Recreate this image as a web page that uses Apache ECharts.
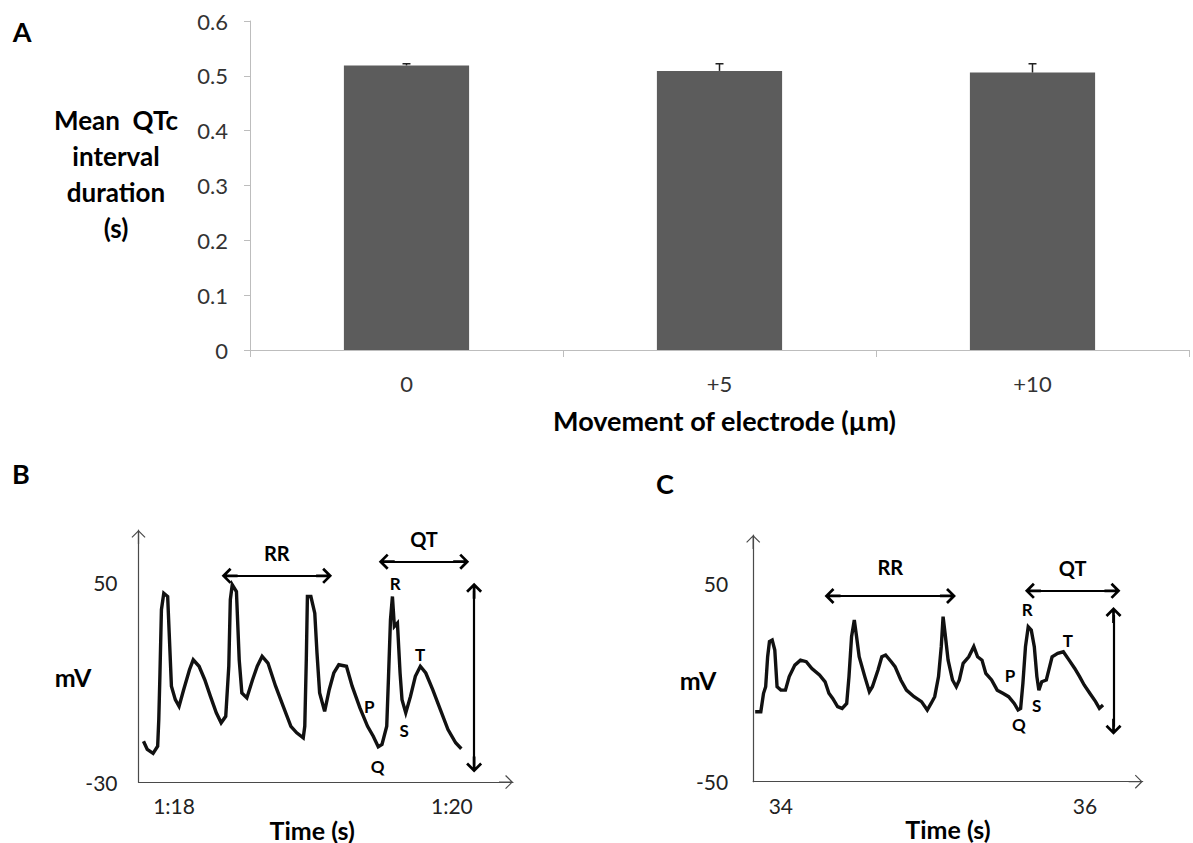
<!DOCTYPE html>
<html>
<head>
<meta charset="utf-8">
<title>Mean QTc interval duration</title>
<script src="https://cdn.jsdelivr.net/npm/echarts@6/dist/echarts.min.js"></script>
<style>
  html, body { margin: 0; padding: 0; background: #ffffff; }
  #chart-container { width: 1193px; height: 843px; }
</style>
</head>
<body>
<div id="chart-container"></div>
<script>
// ---- panel A : bar chart ----
const movements = ['0', '+5', '+10'];
const meanQTc = [0.519, 0.509, 0.506];
const errQTc = [0.003, 0.013, 0.016];

// ---- panel B : ECG trace (time in s, 1:18 = 78 s) ----
const timeB = [77.780, 77.807, 77.849, 77.882, 77.890, 77.898, 77.909, 77.926, 77.954, 77.965,
  77.981, 78.009, 78.036, 78.069, 78.111, 78.138, 78.180, 78.221, 78.262, 78.304,
  78.339, 78.372, 78.394, 78.405, 78.419, 78.449, 78.469, 78.488, 78.524, 78.565,
  78.599, 78.634, 78.676, 78.731, 78.786, 78.841, 78.883, 78.930, 78.941, 78.952,
  78.960, 78.985, 79.013, 79.029, 79.048, 79.084, 79.117, 79.150, 79.186, 79.241,
  79.282, 79.338, 79.393, 79.434, 79.470, 79.497, 79.531, 79.544, 79.558, 79.572,
  79.586, 79.608, 79.627, 79.641, 79.668, 79.702, 79.737, 79.773, 79.812, 79.862,
  79.917, 79.972, 80.027, 80.068];
const mvB = [-13.6, -16.9, -18.5, -15.6, -4.9, 12.5, 39.2, 45.8, 44.5, 29.8,
  8.5, 3.1, 0.4, 7.1, 15.1, 19.1, 16.5, 11.1, 4.4, -2.2,
  -6.2, -3.6, 16.5, 43.2, 49.2, 46.5, 19.1, 5.8, 3.8, 11.1,
  16.5, 20.5, 17.8, 8.5, 0.4, -7.6, -10.2, -12.2, -7.6, 19.1,
  44.5, 44.5, 37.8, 21.8, 5.8, -1.6, 7.1, 13.8, 17.1, 16.5,
  8.5, -0.2, -7.6, -11.6, -15.8, -14.9, -7.6, 12.5, 35.2, 44.5,
  32.5, 33.8, 13.8, 3.1, -2.2, 4.4, 12.5, 16.5, 13.8, 7.1,
  -0.9, -8.9, -14.2, -16.6];
const timeTicksB = [78, 80];
const timeLabelsB = ['1:18', '1:20'];
const mvTicksB = [-30, 50];

// ---- panel C : ECG trace ----
const timeC = [33.831, 33.868, 33.886, 33.900, 33.913, 33.925, 33.943, 33.960, 33.975, 34.000,
  34.030, 34.055, 34.092, 34.129, 34.167, 34.204, 34.254, 34.291, 34.316, 34.341,
  34.373, 34.403, 34.433, 34.448, 34.465, 34.483, 34.498, 34.515, 34.552, 34.582,
  34.602, 34.639, 34.664, 34.689, 34.726, 34.751, 34.789, 34.826, 34.876, 34.925,
  34.963, 34.988, 35.012, 35.037, 35.055, 35.067, 35.080, 35.100, 35.129, 35.154,
  35.174, 35.199, 35.236, 35.269, 35.294, 35.323, 35.348, 35.386, 35.423, 35.460,
  35.498, 35.535, 35.560, 35.577, 35.592, 35.609, 35.627, 35.647, 35.667, 35.684,
  35.697, 35.716, 35.746, 35.784, 35.821, 35.858, 35.896, 35.933, 35.965, 35.995,
  36.032, 36.070, 36.095, 36.119];
const mvC = [-14.8, -14.8, -5.5, -2.2, 12.9, 20.5, 21.3, 16.3, -2.2, -3.9,
  -3.9, 2.9, 8.7, 11.2, 10.4, 7.0, 3.7, 0.3, -5.5, -8.1,
  -12.2, -13.1, -10.6, 2.9, 23.0, 31.4, 23.0, 12.9, 2.9, -4.7,
  -2.2, 6.2, 12.9, 13.8, 10.4, 7.9, 1.2, -3.9, -7.2, -9.7,
  -13.9, -10.6, -7.2, 2.9, 18.0, 33.1, 24.7, 11.2, 1.2, -2.2,
  1.2, 9.6, 12.9, 18.0, 12.9, 11.2, 4.5, 1.2, -3.9, -5.5,
  -7.2, -10.6, -13.9, -13.1, -0.5, 18.0, 28.0, 26.3, 18.0, 2.9,
  -3.9, 0.3, 1.2, 12.9, 14.6, 15.4, 11.2, 7.0, 2.9, -1.3,
  -5.5, -9.7, -13.1, -11.4];
const timeTicksC = [34, 36];
const mvTicksC = [-50, 50];

// ---- annotations (RR / QT intervals, amplitude, wave letters) ----
const waveNames = ['P', 'Q', 'R', 'S', 'T'];
const waveTimeB = [79.405, 79.466, 79.592, 79.657, 79.772];
const waveMvB = [0.3, -23.7, 49.6, -9.3, 21.2];
const waveTimeC = [35.507, 35.566, 35.621, 35.683, 35.888];
const waveMvC = [3.7, -21.4, 36.9, -11.4, 21.3];
const rrB = [78.40, 79.08, 52.8];   // start, end, level
const qtB = [79.531, 80.067, 58.5];
const ampB = [80.160, -22.9, 46.8]; // time, low, high
const rrC = [34.340, 35.099, 43.5];
const qtC = [35.658, 36.181, 46.1];
const ampC = [36.188, -22.3, 33.9];

const FONT = 'Lato';
const chevronThick = 'path://M5,0 L10,5 L8.8,6.2 L5.85,3.25 L5.85,10 L4.15,10 L4.15,3.25 L1.2,6.2 L0,5 Z';
const chevronThin = 'path://M5,0 L10,5 L9.4,5.6 L5.45,1.65 L5.45,10 L4.55,10 L4.55,1.65 L0.6,5.6 L0,5 Z';

const zip = (xs, ys) => xs.map((x, i) => [x, ys[i]]);

const intervalLine = (seg, name, dist) => [
  {
    coord: [seg[0], seg[2]], name: name,
    label: { show: true, formatter: name, position: 'insideMiddleTop', distance: dist,
      color: '#000', fontFamily: FONT, fontWeight: 'bold', fontSize: 20 }
  },
  { coord: [seg[1], seg[2]] }
];
const ampLine = (a) => [{ coord: [a[0], a[1]] }, { coord: [a[0], a[2]] }];

const ecgAxisLine = {
  show: true,
  onZero: false,
  symbol: ['none', chevronThin],
  symbolSize: [14, 14],
  symbolOffset: [0, -7],
  lineStyle: { color: '#4a4a4a', width: 1.2 }
};

const ecgSeries = (idx, times, mvs, rr, qt, amp, rrDist, waveT, waveV) => ({
  type: 'line',
  xAxisIndex: idx, yAxisIndex: idx,
  data: zip(times, mvs),
  showSymbol: false,
  lineStyle: { color: '#111', width: 3.4, join: 'miter' },
  silent: true,
  markLine: {
    silent: true,
    symbol: [chevronThick, chevronThick],
    symbolSize: 16,
    label: { show: false },
    lineStyle: { color: '#000', width: 2.2, type: 'solid' },
    data: [intervalLine(rr, 'RR', rrDist), intervalLine(qt, 'QT', 13), ampLine(amp)]
  },
  markPoint: {
    silent: true,
    symbol: 'circle', symbolSize: 1,
    itemStyle: { color: 'rgba(0,0,0,0)' },
    label: { show: true, position: 'inside', formatter: '{b}', color: '#000',
      fontFamily: FONT, fontWeight: 'bold', fontSize: 17 },
    data: waveNames.map((n, i) => ({ name: n, coord: [waveT[i], waveV[i]] }))
  }
});

const txt = (x, y, text, size, lineHeight) => ({
  type: 'text', x: x, y: y, silent: true,
  style: {
    text: text, fontFamily: FONT, fontWeight: 'bold', fontSize: size, lineHeight: lineHeight || size,
    fill: '#000', textAlign: 'center', textVerticalAlign: 'middle', align: 'center', verticalAlign: 'middle'
  }
});

var dom = document.getElementById('chart-container');
var myChart = echarts.init(dom, null, { renderer: 'svg' });

var option = {
  animation: false,
  backgroundColor: '#ffffff',
  graphic: [
    txt(22, 31, 'A', 27),
    txt(21, 473, 'B', 27),
    txt(665, 483, 'C', 27),
    // axis titles of the vertical axes
    txt(116, 174, 'Mean  QTc\ninterval\nduration\n(s)', 26, 36),
    txt(73, 677, 'mV', 25),
    txt(698, 680, 'mV', 25)
  ],
  grid: [
    { left: 250, right: 4, top: 21, bottom: 493 },
    { left: 138.5, right: 680, top: 530, bottom: 60.3 },
    { left: 753.2, right: 50.3, top: 535, bottom: 61.3 }
  ],
  xAxis: [
    {
      gridIndex: 0,
      type: 'category',
      data: movements,
      axisLine: { lineStyle: { color: '#bdbdbd', width: 1 } },
      axisTick: { show: true, alignWithLabel: false, length: 7, lineStyle: { color: '#bdbdbd' } },
      axisLabel: { margin: 22, fontFamily: FONT, fontSize: 22, color: '#333' },
      name: 'Movement of electrode (µm)',
      nameLocation: 'middle',
      nameGap: 70,
      nameTextStyle: { fontFamily: FONT, fontWeight: 'bold', fontSize: 27, color: '#000', verticalAlign: 'middle', padding: [0, 0, 0, 10] }
    },
    {
      gridIndex: 1,
      type: 'value',
      min: 77.744, max: 80.44,
      axisLine: ecgAxisLine,
      axisTick: { show: false },
      splitLine: { show: false },
      axisLabel: {
        customValues: timeTicksB,
        formatter: (v) => timeLabelsB[timeTicksB.indexOf(v)],
        margin: 13, fontFamily: FONT, fontSize: 21, color: '#222'
      },
      name: 'Time (s)',
      nameLocation: 'middle',
      nameGap: 42,
      nameTextStyle: { fontFamily: FONT, fontWeight: 'bold', fontSize: 25, lineHeight: 25, color: '#000', verticalAlign: 'middle', padding: [0, 27, 0, 0] }
    },
    {
      gridIndex: 2,
      type: 'value',
      min: 33.818, max: 36.38,
      axisLine: ecgAxisLine,
      axisTick: { show: false },
      splitLine: { show: false },
      axisLabel: {
        customValues: timeTicksC,
        margin: 13, fontFamily: FONT, fontSize: 21, color: '#222'
      },
      name: 'Time (s)',
      nameLocation: 'middle',
      nameGap: 43,
      nameTextStyle: { fontFamily: FONT, fontWeight: 'bold', fontSize: 25, lineHeight: 25, color: '#000', verticalAlign: 'middle' }
    }
  ],
  yAxis: [
    {
      gridIndex: 0,
      type: 'value',
      min: 0, max: 0.6, interval: 0.1,
      axisLine: { show: true, lineStyle: { color: '#bdbdbd', width: 1 } },
      axisTick: { show: true, length: 6, lineStyle: { color: '#bdbdbd' } },
      splitLine: { show: false },
      axisLabel: { margin: 22, fontFamily: FONT, fontSize: 22, color: '#333' }
    },
    {
      gridIndex: 1,
      type: 'value',
      min: -30, max: 71.2,
      axisLine: ecgAxisLine,
      axisTick: { show: false },
      splitLine: { show: false },
      axisLabel: { customValues: mvTicksB, margin: 21, fontFamily: FONT, fontSize: 21, color: '#222' }
    },
    {
      gridIndex: 2,
      type: 'value',
      min: -50, max: 74.2,
      axisLine: ecgAxisLine,
      axisTick: { show: false },
      splitLine: { show: false },
      axisLabel: { customValues: mvTicksC, margin: 25, fontFamily: FONT, fontSize: 21, color: '#222' }
    }
  ],
  series: [
    {
      type: 'bar',
      xAxisIndex: 0, yAxisIndex: 0,
      data: meanQTc,
      barWidth: '40%',
      itemStyle: { color: '#5c5c5c' },
      silent: true
    },
    {
      type: 'custom',
      xAxisIndex: 0, yAxisIndex: 0,
      data: meanQTc.map((m, i) => [i, m, errQTc[i]]),
      silent: true,
      z: 5,
      renderItem: function (params, api) {
        var base = api.coord([api.value(0), api.value(1)]);
        var top = api.coord([api.value(0), api.value(1) + api.value(2)]);
        var half = 4;
        var st = { stroke: '#222', lineWidth: 1.5 };
        return {
          type: 'group',
          children: [
            { type: 'line', shape: { x1: base[0], y1: base[1], x2: top[0], y2: top[1] }, style: st },
            { type: 'line', shape: { x1: top[0] - half, y1: top[1], x2: top[0] + half, y2: top[1] }, style: st }
          ]
        };
      }
    },
    ecgSeries(1, timeB, mvB, rrB, qtB, ampB, 13, waveTimeB, waveMvB),
    ecgSeries(2, timeC, mvC, rrC, qtC, ampC, 19, waveTimeC, waveMvC)
  ]
};

option && myChart.setOption(option);
</script>
</body>
</html>
